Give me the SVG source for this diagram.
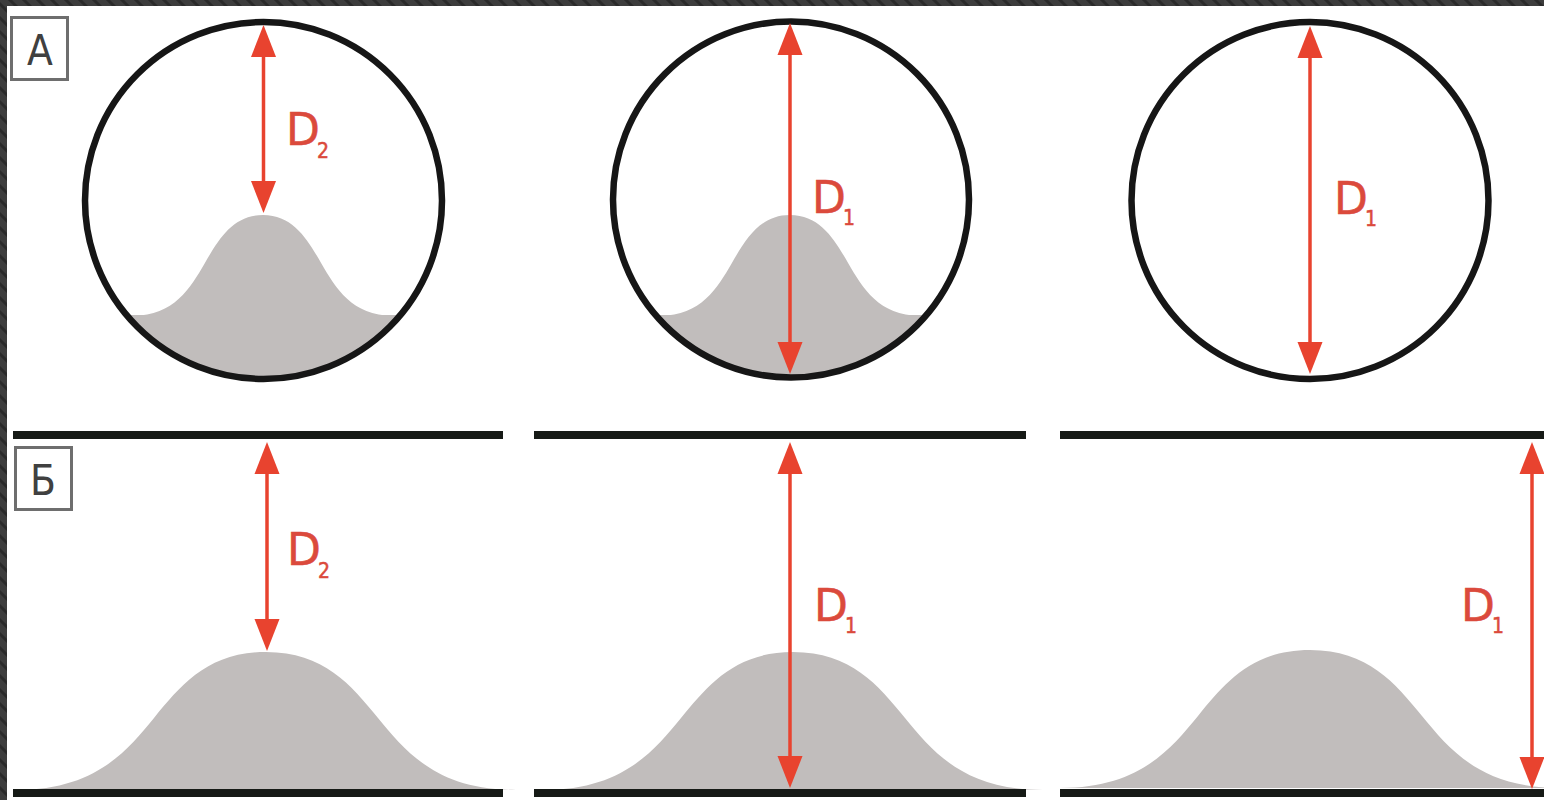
<svg xmlns="http://www.w3.org/2000/svg" width="1544" height="800" viewBox="0 0 1544 800">
  <style>
    .ring { fill: none; stroke: #161616; stroke-width: 6.5; }
    .hump { fill: #c1bdbc; }
    .bar { stroke: #161a16; stroke-width: 8; }
    .dim { stroke: #e8432f; stroke-width: 3.5; fill: none; marker-start: url(#ah); marker-end: url(#ah); }
    .lbl { font-family: 'DejaVu Sans', 'Liberation Sans', sans-serif; fill: #db4a3c; stroke: #db4a3c; stroke-width: 0.5; }
    .big { font-size: 44px; }
    .sub { font-size: 21px; font-family: 'DejaVu Sans Condensed', 'DejaVu Sans', sans-serif; font-stretch: condensed; }
    .box { fill: #ffffff; stroke: #6e6e6e; stroke-width: 3; }
    .boxt { font-family: 'DejaVu Sans Condensed', 'DejaVu Sans', sans-serif; font-stretch: condensed; font-size: 42px; fill: #404040; text-anchor: middle; }
  </style>
  <defs>
    <pattern id="hatch" patternUnits="userSpaceOnUse" width="14" height="14">
      <rect width="14" height="14" fill="#3d3d3d"/>
      <path d="M-4,0 L10,14 M3,-7 L17,7 M-11,7 L3,21" stroke="#2a2a2a" stroke-width="3"/>
    </pattern>
    <marker id="ah" viewBox="0 -13 32 26" refX="0" refY="0" markerWidth="32" markerHeight="26" markerUnits="userSpaceOnUse" orient="auto-start-reverse">
      <path d="M0,-12.5 L32,0 L0,12.5 Z" fill="#e8432f"/>
    </marker>
    <path id="humpB" d="M-250,138 C-171,138 -140,100 -112,66 C-85,33 -58,0 0,0 C58,0 85,33 112,66 C140,100 171,138 250,138 Z"/>
    <clipPath id="c1"><circle cx="263.5" cy="200.5" r="177"/></clipPath>
    <clipPath id="c2"><circle cx="791" cy="199.5" r="177"/></clipPath>
  </defs>

  <!-- frame -->
  <rect x="0" y="0" width="1544" height="800" fill="url(#hatch)"/>
  <rect x="7" y="6" width="1537" height="794" fill="#ffffff"/>

  <!-- Panel A -->
  <g id="labelA">
    <rect class="box" x="11.5" y="17.5" width="56" height="62"/>
    <text class="boxt" x="40" y="65">А</text>
  </g>

  <g id="circleA1">
    <g clip-path="url(#c1)">
      <use href="#humpB" class="hump" transform="translate(263,215) scale(0.52,0.73)"/>
      <rect class="hump" x="60" y="315" width="420" height="100"/>
    </g>
    <circle class="ring" cx="263.5" cy="200.5" r="178.5"/>
  </g>

  <g id="circleA2">
    <g clip-path="url(#c2)">
      <use href="#humpB" class="hump" transform="translate(790,215) scale(0.52,0.73)"/>
      <rect class="hump" x="590" y="315" width="420" height="100"/>
    </g>
    <circle class="ring" cx="791" cy="199.5" r="178"/>
  </g>

  <g id="circleA3">
    <circle class="ring" cx="1310" cy="200.5" r="178.5"/>
  </g>

  <!-- Panel B -->
  <g id="labelB">
    <rect class="box" x="15.5" y="447.5" width="56" height="62"/>
    <text class="boxt" x="43" y="495">Б</text>
  </g>

  <g id="channelB1">
    <use href="#humpB" class="hump" transform="translate(266,652)"/>
    <line class="bar" x1="13" y1="435" x2="503" y2="435"/>
    <line class="bar" x1="13" y1="793" x2="503" y2="793"/>
  </g>

  <g id="channelB2">
    <use href="#humpB" class="hump" transform="translate(793,652)"/>
    <line class="bar" x1="534" y1="435" x2="1026" y2="435"/>
    <line class="bar" x1="534" y1="793" x2="1026" y2="793"/>
  </g>

  <g id="channelB3">
    <use href="#humpB" class="hump" transform="translate(1310,650)"/>
    <line class="bar" x1="1060" y1="435" x2="1544" y2="435"/>
    <line class="bar" x1="1060" y1="793" x2="1544" y2="793"/>
  </g>

  <!-- dimension arrows -->
  <g id="connectors">
    <line class="dim" x1="263.5" y1="57" x2="263.5" y2="181"/>
    <line class="dim" x1="790" y1="55" x2="790" y2="342"/>
    <line class="dim" x1="1310" y1="58" x2="1310" y2="342"/>
    <line class="dim" x1="267" y1="474" x2="267" y2="619"/>
    <line class="dim" x1="790" y1="474" x2="790" y2="756"/>
    <line class="dim" x1="1532" y1="474" x2="1532" y2="757"/>
  </g>

  <!-- dimension labels -->
  <g id="labels">
    <text class="lbl"><tspan class="big" x="286" y="145">D</tspan><tspan class="sub" x="317" y="158">2</tspan></text>
    <text class="lbl"><tspan class="big" x="812" y="213">D</tspan><tspan class="sub" x="843" y="225">1</tspan></text>
    <text class="lbl"><tspan class="big" x="1334" y="214">D</tspan><tspan class="sub" x="1365" y="226">1</tspan></text>
    <text class="lbl"><tspan class="big" x="287" y="565">D</tspan><tspan class="sub" x="318" y="578">2</tspan></text>
    <text class="lbl"><tspan class="big" x="814" y="621">D</tspan><tspan class="sub" x="845" y="633">1</tspan></text>
    <text class="lbl"><tspan class="big" x="1461" y="621">D</tspan><tspan class="sub" x="1492" y="633">1</tspan></text>
  </g>
</svg>
